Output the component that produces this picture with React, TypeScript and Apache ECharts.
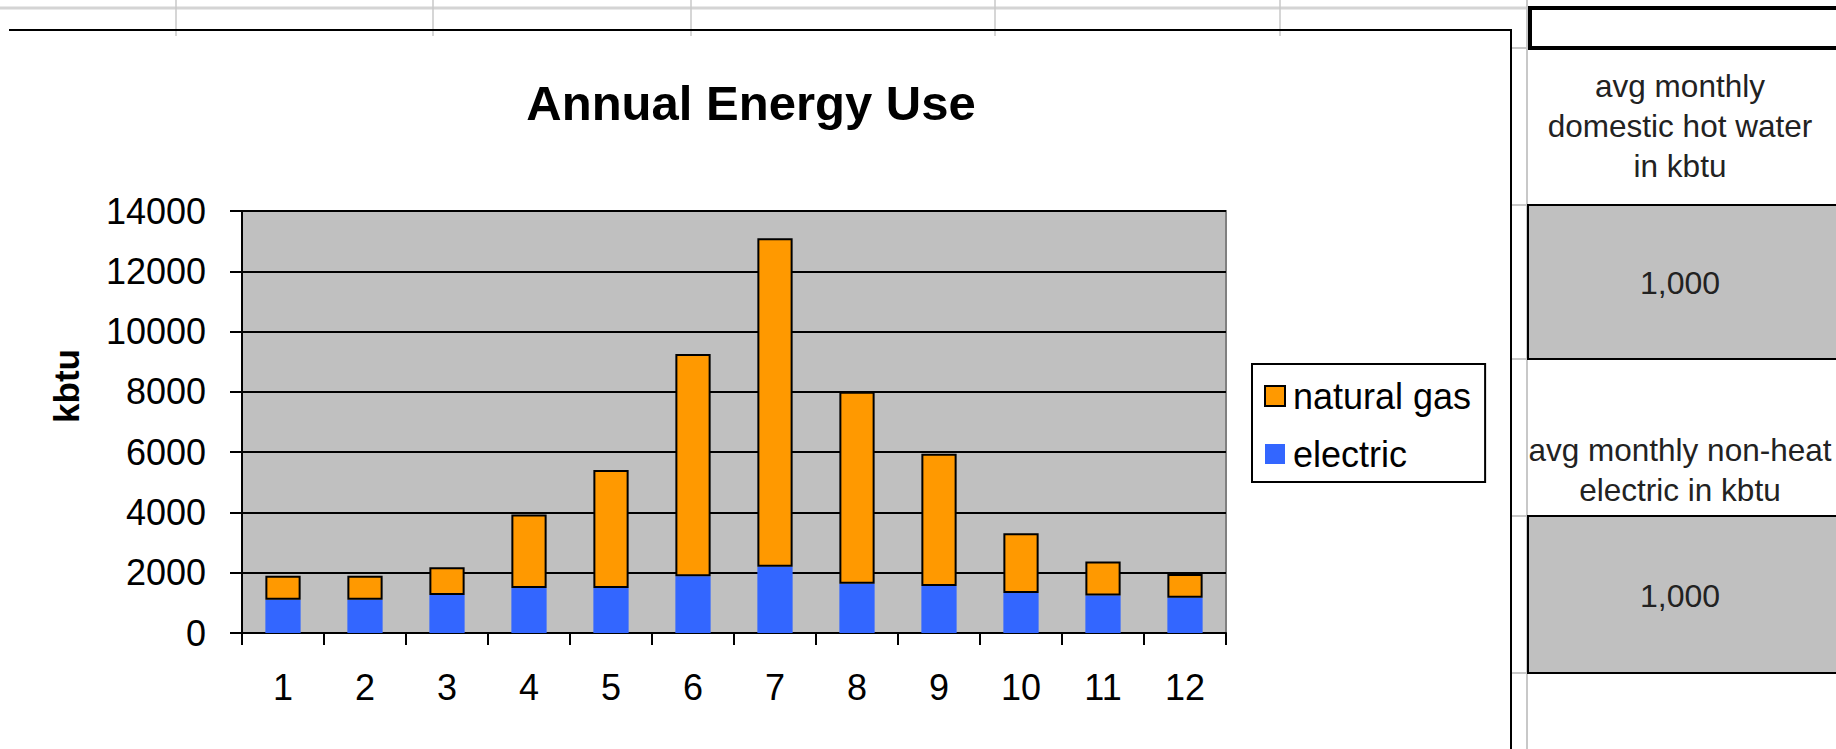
import { useEffect, useRef } from "react";
import * as echarts from "echarts";

// Monthly energy use, kbtu
const months = ["1", "2", "3", "4", "5", "6", "7", "8", "9", "10", "11", "12"];
const electric = [1100, 1100, 1260, 1490, 1490, 1880, 2200, 1630, 1560, 1330, 1240, 1170];
const naturalGas = [800, 800, 920, 2440, 3920, 7380, 10900, 6370, 4390, 1980, 1130, 790];

// Value axis
const yMin = 0;
const yMax = 14000;
const yStep = 2000;

// Side panel cells
const panelHeaders = ["avg monthly\ndomestic hot water\nin kbtu", "avg monthly non-heat\nelectric in kbtu"];
const panelValues = [1000, 1000];

const FONT = "'Liberation Sans', Arial, Helvetica, sans-serif";

export default function App() {
  const ref = useRef<HTMLDivElement>(null);

  useEffect(() => {
    if (!ref.current) return;
    const chart = echarts.init(ref.current, null, { renderer: "svg" });

    const gridLeft = 242;
    const gridTop = 211;
    const gridWidth = 984;
    const gridHeight = 422;

    const sheetColumns = [176, 433, 691, 995, 1280];
    const frameRight = 1511;
    const frameTop = 30;
    const panelLeft = 1528;
    const panelCenter = 1680;
    const headerCenters = [126, 470];
    const valueCells = [
      { top: 205, height: 154 },
      { top: 516, height: 157 },
    ];
    const rowLines = [48, 205, 359, 516, 673];

    const graphic: any[] = [];

    // spreadsheet grid above the chart frame
    graphic.push({
      type: "line",
      silent: true,
      shape: { x1: 0, y1: 8, x2: panelLeft, y2: 8 },
      style: { stroke: "#d4d4d4", lineWidth: 3 },
    });
    sheetColumns.forEach((x) =>
      graphic.push({
        type: "line",
        silent: true,
        shape: { x1: x, y1: 0, x2: x, y2: frameTop + 6 },
        style: { stroke: "#c8c8c8", lineWidth: 1.5 },
      })
    );

    // chart frame
    graphic.push({
      type: "polyline",
      silent: true,
      shape: { points: [[9, frameTop], [frameRight, frameTop], [frameRight, 749]] },
      style: { stroke: "#000", lineWidth: 2, fill: null },
    });

    // side panel gridlines
    graphic.push({
      type: "line",
      silent: true,
      shape: { x1: panelLeft - 1, y1: 0, x2: panelLeft - 1, y2: 749 },
      style: { stroke: "#c8c8c8", lineWidth: 2 },
    });
    rowLines.forEach((y) =>
      graphic.push({
        type: "line",
        silent: true,
        shape: { x1: frameRight + 1, y1: y, x2: panelLeft, y2: y },
        style: { stroke: "#c8c8c8", lineWidth: 2 },
      })
    );

    // selected cell
    graphic.push({
      type: "rect",
      silent: true,
      shape: { x: panelLeft + 2, y: 8, width: 330, height: 40 },
      style: { fill: "#fff", stroke: "#000", lineWidth: 4 },
    });

    panelHeaders.forEach((t, i) =>
      graphic.push({
        type: "text",
        silent: true,
        x: panelCenter,
        y: headerCenters[i],
        style: {
          text: t,
          font: `31.5px ${FONT}`,
          fill: "#222",
          lineHeight: 40,
          textAlign: "center",
          textVerticalAlign: "middle",
          verticalAlign: "middle",
        },
      })
    );

    valueCells.forEach((c, i) => {
      graphic.push({
        type: "rect",
        silent: true,
        shape: { x: panelLeft, y: c.top, width: 340, height: c.height },
        style: { fill: "#C0C0C0", stroke: "#000", lineWidth: 2 },
      });
      graphic.push({
        type: "text",
        silent: true,
        x: panelCenter,
        y: c.top + c.height / 2 + 1,
        style: {
          text: panelValues[i].toLocaleString("en-US"),
          font: `32px ${FONT}`,
          fill: "#222",
          textAlign: "center",
          textVerticalAlign: "middle",
          verticalAlign: "middle",
        },
      });
    });

    // value axis title
    graphic.push({
      type: "text",
      silent: true,
      x: 66,
      y: 386,
      rotation: Math.PI / 2,
      style: {
        text: "kbtu",
        font: `bold 35px ${FONT}`,
        fill: "#000",
        textAlign: "center",
        textVerticalAlign: "middle",
        verticalAlign: "middle",
      },
    });

    chart.setOption({
      animation: false,
      backgroundColor: "#fff",
      title: {
        text: "Annual Energy Use",
        left: 751,
        top: 78,
        padding: 0,
        textAlign: "center",
        textStyle: { fontFamily: FONT, fontSize: 49, fontWeight: "bold", color: "#000" },
      },
      legend: {
        orient: "vertical",
        left: 1252,
        top: 364,
        padding: [14, 14, 10, 12],
        itemWidth: 20,
        itemHeight: 20,
        itemGap: 22,
        icon: "rect",
        borderColor: "#000",
        borderWidth: 2,
        backgroundColor: "#fff",
        data: ["natural gas", "electric"],
        textStyle: { fontFamily: FONT, fontSize: 36, color: "#000", padding: [0, 0, 0, 3] },
      },
      grid: {
        left: gridLeft,
        top: gridTop,
        width: gridWidth,
        height: gridHeight,
        show: true,
        backgroundColor: "#C0C0C0",
        borderColor: "#808080",
        borderWidth: 2,
      },
      xAxis: {
        type: "category",
        data: months,
        boundaryGap: true,
        axisLine: { lineStyle: { color: "#000", width: 2 } },
        axisTick: { show: true, length: 12, inside: false, lineStyle: { color: "#000", width: 2 } },
        axisLabel: { margin: 36, fontFamily: FONT, fontSize: 36, color: "#000" },
        splitLine: { show: false },
      },
      yAxis: {
        type: "value",
        min: yMin,
        max: yMax,
        interval: yStep,
        axisLine: { show: true, lineStyle: { color: "#000", width: 2 } },
        axisTick: { show: true, length: 12, inside: false, lineStyle: { color: "#000", width: 2 } },
        axisLabel: {
          margin: 36,
          fontFamily: FONT,
          fontSize: 36,
          color: "#000",
          formatter: (v: number) => String(v),
        },
        splitLine: { show: true, lineStyle: { color: "#000", width: 2 } },
      },
      series: [
        {
          name: "electric",
          type: "bar",
          stack: "energy",
          data: electric,
          barWidth: "43%",
          itemStyle: { color: "#3366FF" },
        },
        {
          name: "natural gas",
          type: "bar",
          stack: "energy",
          data: naturalGas,
          barWidth: "43%",
          itemStyle: { color: "#FF9900", borderColor: "#000", borderWidth: 2 },
        },
      ],
      graphic,
    });

    return () => chart.dispose();
  }, []);

  return (
    <div
      ref={ref}
      style={{ position: "fixed", left: 0, top: 0, width: 1836, height: 749, background: "#fff" }}
    />
  );
}
